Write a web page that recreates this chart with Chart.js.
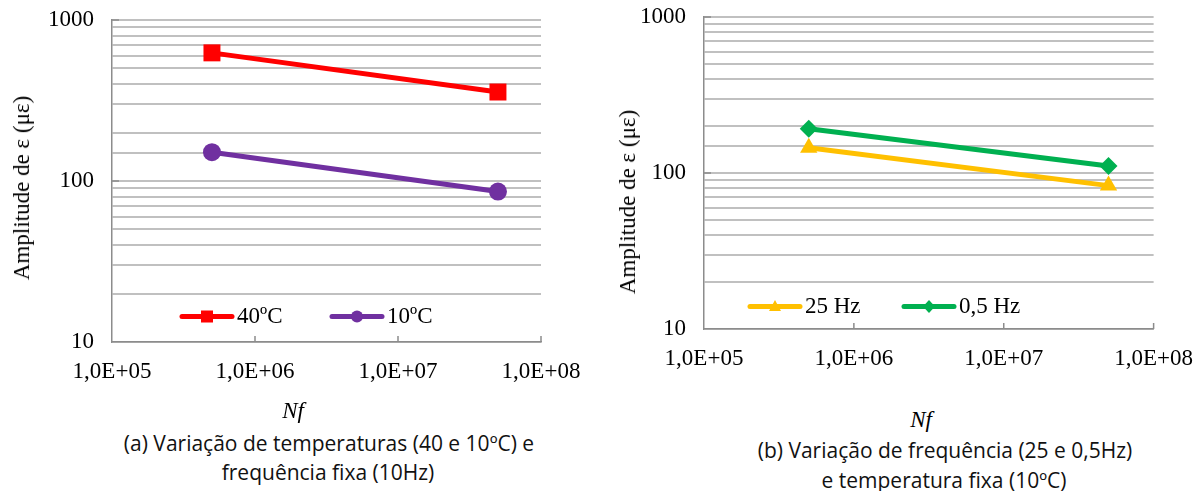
<!DOCTYPE html>
<html>
<head>
<meta charset="utf-8">
<script src="https://cdn.jsdelivr.net/npm/chart.js@4.4.0/dist/chart.umd.min.js"></script>
<style>
  body { margin: 0; background: #fff; width: 1201px; height: 491px; position: relative; overflow: hidden;
         font-family: 'Liberation Serif', serif; color: #000; }
  .chartBox { position: absolute; top: 0; }
  .ytitle { position: absolute; font-size: 23px; white-space: nowrap; transform: translate(-50%, -50%) rotate(-90deg); }
  .nf { position: absolute; font-size: 23px; font-style: italic; transform: translate(-50%, -50%); }
  .cap { position: absolute; font-family: "Open Sans", sans-serif; font-size: 21px; white-space: nowrap;
         transform: translate(-50%, -50%); color: #111; }
  .leg { position: absolute; display: flex; align-items: center; font-size: 23px; transform: translateY(-50%); }
  .leg svg { display: block; margin-right: 2px; }
</style>
</head>
<body>

<div class="chartBox" style="left:0"><canvas id="chartA" width="600" height="400"></canvas></div>
<div class="chartBox" style="left:600px"><canvas id="chartB" width="601" height="400"></canvas></div>

<div class="ytitle" style="left:22px; top:188px">Amplitude de ε (με)</div>
<div class="ytitle" style="left:628px; top:202px">Amplitude de ε (με)</div>
<div class="nf" style="left:293px; top:411px">Nf</div>
<div class="nf" style="left:921px; top:420px">Nf</div>
<div class="cap" style="left:329px; top:443px">(a) Variação de temperaturas (40 e 10ºC) e</div>
<div class="cap" style="left:328px; top:472px">frequência fixa (10Hz)</div>
<div class="cap" style="left:945px; top:450px">(b) Variação de frequência (25 e 0,5Hz)</div>
<div class="cap" style="left:944px; top:480px">e temperatura fixa (10ºC)</div>

<div id="legA"></div>
<div id="legB"></div>

<script>
// Number of cycles (x) for both tests
const nfValues = [5e5, 5e7];

// (a) temperature series, strain amplitude in microstrain
const temp40 = [625, 357];
const temp10 = [151, 86];

// (b) frequency series
const freq25 = [145, 83];
const freq05 = [192, 111];

// Axis ticks
const xTickValues = [1e5, 1e6, 1e7, 1e8];
const xTickLabels = ['1,0E+05', '1,0E+06', '1,0E+07', '1,0E+08'];
const yTickValues = [10, 100, 1000];
const yTickLabels = ['10', '100', '1000'];

const serif = "'Liberation Serif', serif";

const findTick = (values, v) => values.findIndex(t => Math.abs(Math.log10(t) - Math.log10(v)) < 1e-6);

const toPoints = ys => nfValues.map((x, i) => ({ x: x, y: ys[i] }));

const makeSeries = (label, ys, color, style, radius) => ({
    label: label,
    data: toPoints(ys),
    showLine: true,
    borderColor: color,
    backgroundColor: color,
    borderWidth: 5,
    pointStyle: style,
    pointRadius: radius,
    pointHoverRadius: radius,
    pointBorderWidth: 0
});

// small inward tick marks at the decades, like the original
const axisMarks = {
    id: 'axisMarks',
    afterDatasetsDraw(chart) {
        const { ctx, chartArea, scales } = chart;
        ctx.save();
        ctx.strokeStyle = '#8c8c8c';
        ctx.lineWidth = 1.5;
        ctx.beginPath();
        xTickValues.slice(1).forEach(v => {
            const px = scales.x.getPixelForValue(v);
            ctx.moveTo(px, chartArea.bottom);
            ctx.lineTo(px, chartArea.bottom - 6);
        });
        yTickValues.slice(1).forEach(v => {
            const py = scales.y.getPixelForValue(v);
            ctx.moveTo(chartArea.left, py);
            ctx.lineTo(chartArea.left + 7, py);
        });
        ctx.stroke();
        ctx.restore();
    }
};

const makeChart = (id, datasets, area) => new Chart(document.getElementById(id), {
    type: 'scatter',
    data: { datasets: datasets },
    options: {
        responsive: false,
        devicePixelRatio: 1,
        animation: false,
        layout: { padding: { top: area.top, right: area.right, left: 0, bottom: 0 } },
        plugins: { legend: { display: false }, tooltip: { enabled: false } },
        scales: {
            x: {
                type: 'logarithmic',
                min: 1e5,
                max: 1e8,
                afterFit: s => { s.height = area.xHeight; },
                grid: { display: false },
                border: { display: true, color: '#8c8c8c', width: 1.5 },
                ticks: {
                    autoSkip: false,
                    maxRotation: 0,
                    padding: 8,
                    color: '#000',
                    font: { family: serif, size: 23 },
                    callback: v => {
                        const i = findTick(xTickValues, v);
                        return i >= 0 ? xTickLabels[i] : null;
                    }
                }
            },
            y: {
                type: 'logarithmic',
                min: 10,
                max: 1000,
                afterFit: s => { s.width = area.yWidth; },
                // invisible tick marks give the label gap without extra top padding
                grid: { color: '#c0c0c0', lineWidth: 2, drawTicks: true, tickLength: 18, tickColor: 'rgba(0,0,0,0)' },
                border: { display: true, color: '#8c8c8c', width: 1.5 },
                ticks: {
                    autoSkip: false,
                    padding: 0,
                    color: '#000',
                    font: { family: serif, size: 23 },
                    callback: v => {
                        const i = findTick(yTickValues, v);
                        return i >= 0 ? yTickLabels[i] : '';
                    }
                }
            }
        }
    },
    plugins: [axisMarks]
});

makeChart('chartA', [
    makeSeries('40ºC', temp40, '#ff0000', 'rect', 12),
    makeSeries('10ºC', temp10, '#7030a0', 'circle', 9)
], { top: 20, right: 59, xHeight: 58, yWidth: 112 });

makeChart('chartB', [
    makeSeries('25 Hz', freq25, '#ffc000', 'triangle', 10),
    makeSeries('0,5 Hz', freq05, '#00b050', 'rectRot', 9)
], { top: 17, right: 47, xHeight: 71, yWidth: 104 });

// legends inside the plot area
const markerSvg = (shape, color) => {
    let m = '';
    if (shape === 'rect') m = `<rect x="22" y="2.5" width="12" height="12" fill="${color}"/>`;
    if (shape === 'circle') m = `<circle cx="28" cy="8.5" r="6" fill="${color}"/>`;
    if (shape === 'triangle') m = `<polygon points="28,2 34,13 22,13" fill="${color}"/>`;
    if (shape === 'rectRot') m = `<polygon points="28,2 34,8.5 28,15 22,8.5" fill="${color}"/>`;
    return `<svg width="56" height="17"><line x1="3" y1="8.5" x2="53" y2="8.5" stroke="${color}" stroke-width="5" stroke-linecap="round"/>${m}</svg>`;
};

const addLegend = (hostId, items) => {
    const host = document.getElementById(hostId);
    items.forEach(it => {
        const d = document.createElement('div');
        d.className = 'leg';
        d.style.left = it.x + 'px';
        d.style.top = it.y + 'px';
        d.innerHTML = markerSvg(it.shape, it.color) + '<span>' + it.label + '</span>';
        host.appendChild(d);
    });
};

addLegend('legA', [
    { label: '40ºC', shape: 'rect', color: '#ff0000', x: 179, y: 316 },
    { label: '10ºC', shape: 'circle', color: '#7030a0', x: 329, y: 316 }
]);
addLegend('legB', [
    { label: '25 Hz', shape: 'triangle', color: '#ffc000', x: 747, y: 306 },
    { label: '0,5 Hz', shape: 'rectRot', color: '#00b050', x: 901, y: 306 }
]);
</script>
</body>
</html>
